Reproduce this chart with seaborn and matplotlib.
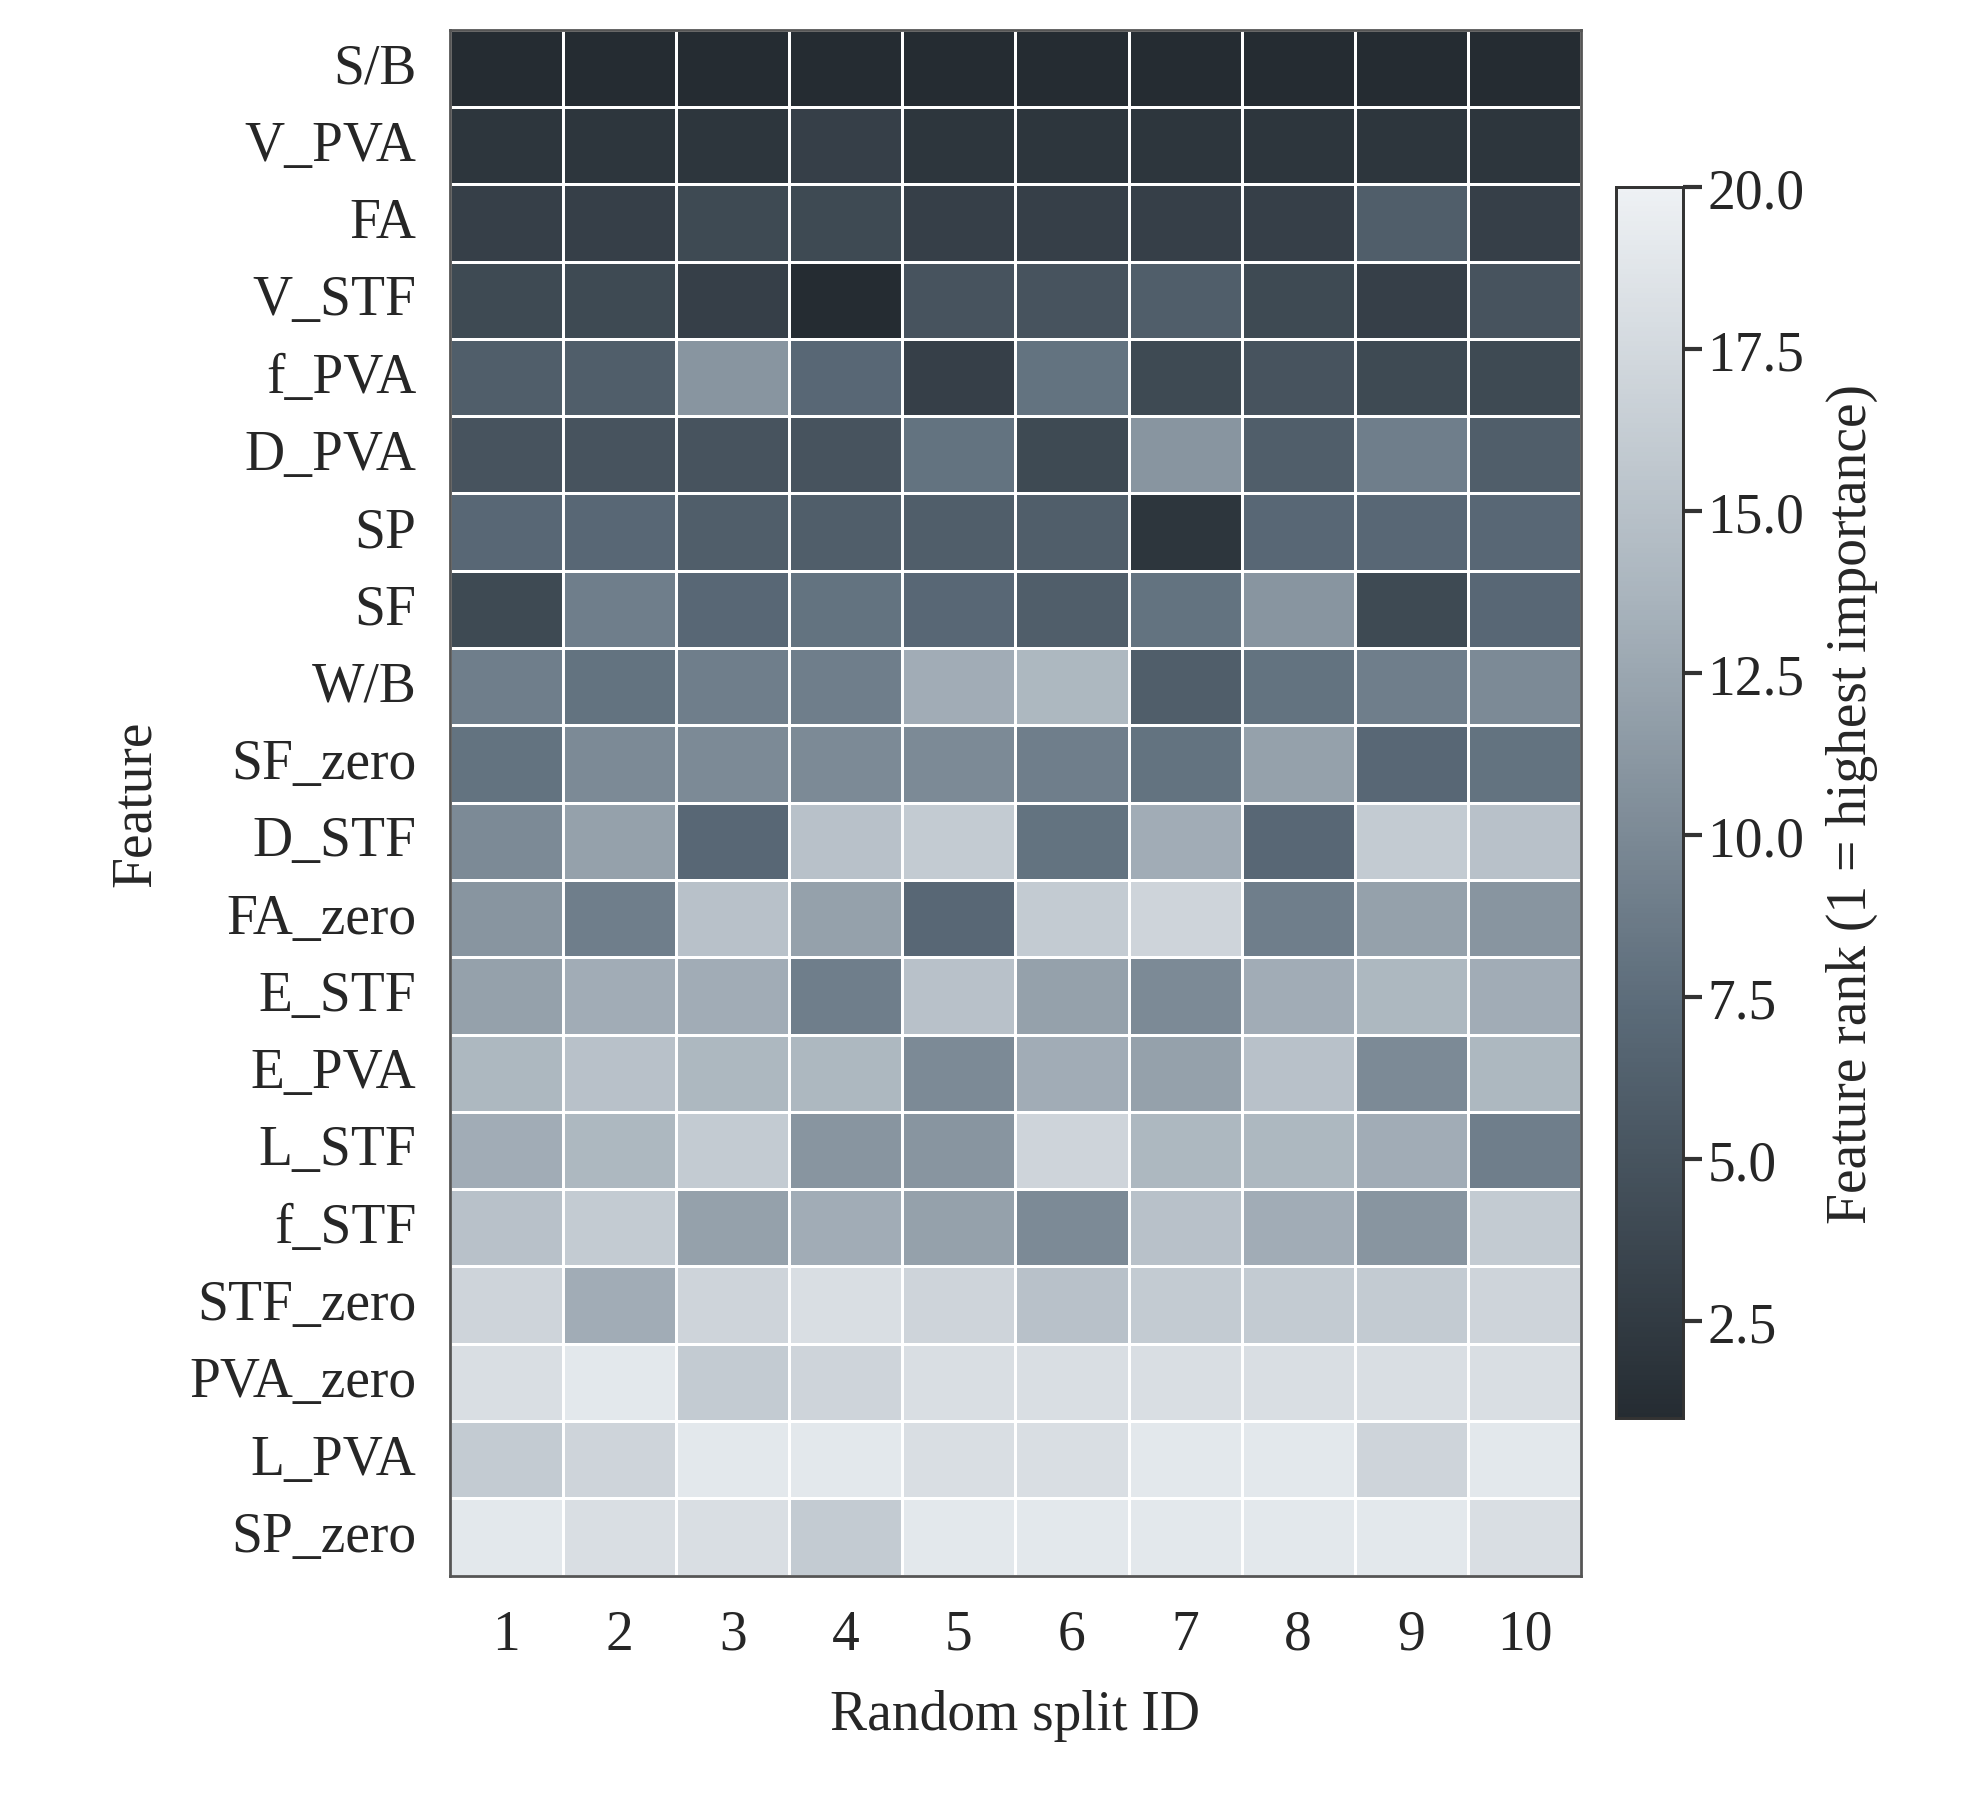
import numpy as np
import pandas as pd
import seaborn as sns
import matplotlib
matplotlib.use("Agg")
import matplotlib.pyplot as plt
from matplotlib.colors import LinearSegmentedColormap

features = ["S/B", "V_PVA", "FA", "V_STF", "f_PVA", "D_PVA", "SP", "SF", "W/B", "SF_zero",
            "D_STF", "FA_zero", "E_STF", "E_PVA", "L_STF", "f_STF", "STF_zero", "PVA_zero",
            "L_PVA", "SP_zero"]
splits = [str(i) for i in range(1, 11)]
ranks = [
    [1, 1, 1, 1, 1, 1, 1, 1, 1, 1],
    [2, 2, 2, 3, 2, 2, 2, 2, 2, 2],
    [3, 3, 4, 4, 3, 3, 3, 3, 6, 3],
    [4, 4, 3, 1, 5, 5, 6, 4, 3, 5],
    [6, 6, 11, 7, 3, 8, 4, 5, 4, 4],
    [5, 5, 5, 5, 8, 4, 11, 6, 9, 6],
    [7, 7, 6, 6, 6, 6, 2, 7, 7, 7],
    [4, 9, 7, 8, 7, 6, 8, 11, 4, 7],
    [9, 8, 9, 9, 13, 14, 6, 8, 9, 10],
    [8, 10, 10, 10, 10, 9, 8, 12, 7, 8],
    [10, 12, 7, 15, 16, 8, 13, 7, 16, 15],
    [11, 9, 15, 12, 7, 16, 17, 9, 12, 11],
    [12, 13, 13, 9, 15, 12, 10, 13, 14, 13],
    [14, 15, 14, 14, 10, 13, 12, 15, 10, 14],
    [13, 14, 16, 11, 11, 17, 14, 14, 13, 9],
    [15, 16, 12, 13, 12, 10, 15, 13, 11, 16],
    [17, 13, 17, 18, 17, 15, 16, 16, 16, 17],
    [18, 19, 16, 17, 18, 18, 18, 18, 18, 18],
    [16, 17, 19, 19, 18, 18, 19, 19, 17, 19],
    [19, 18, 18, 16, 19, 19, 19, 19, 19, 18],
]
df = pd.DataFrame(ranks, index=features, columns=splits)

sns.set_theme(style="white")
plt.rcParams['font.family'] = ['Liberation Serif', 'DejaVu Serif']
cmap = LinearSegmentedColormap.from_list("c", ["#252c32", "#5b6b79", "#a9b4bd", "#eef1f4"])

fig = plt.figure(figsize=(19.64, 18.08), dpi=100)
ax = fig.add_axes([0.229, 0.128, 0.576, 0.855])
cax = fig.add_axes([0.823, 0.215, 0.034, 0.681])
sns.heatmap(df, ax=ax, cbar_ax=cax, cmap=cmap, vmin=1, vmax=20, linewidths=0.8, linecolor="#ffffff",
            cbar_kws={"ticks": [2.5, 5, 7.5, 10, 12.5, 15, 17.5, 20]})
ax.tick_params(axis='both', labelsize=40, length=14, width=3, color="#333333", pad=10)
ax.set_yticklabels(features, rotation=0)
ax.set_xticklabels(splits, rotation=0)
ax.set_xlabel("Random split ID", fontsize=40, labelpad=20)
ax.set_ylabel("Feature", fontsize=40, labelpad=20)
for s in ax.spines.values():
    s.set_visible(True); s.set_color("#555555"); s.set_linewidth(2)
cax.tick_params(labelsize=40, length=14, width=3, color="#333333")
cax.yaxis.set_major_formatter(matplotlib.ticker.FormatStrFormatter('%.1f'))
cax.set_ylabel("Feature rank (1 = highest importance)", fontsize=40, labelpad=15)
for s in cax.spines.values():
    s.set_visible(True); s.set_color("#333333"); s.set_linewidth(2)
fig.savefig("out.png", dpi=100)
